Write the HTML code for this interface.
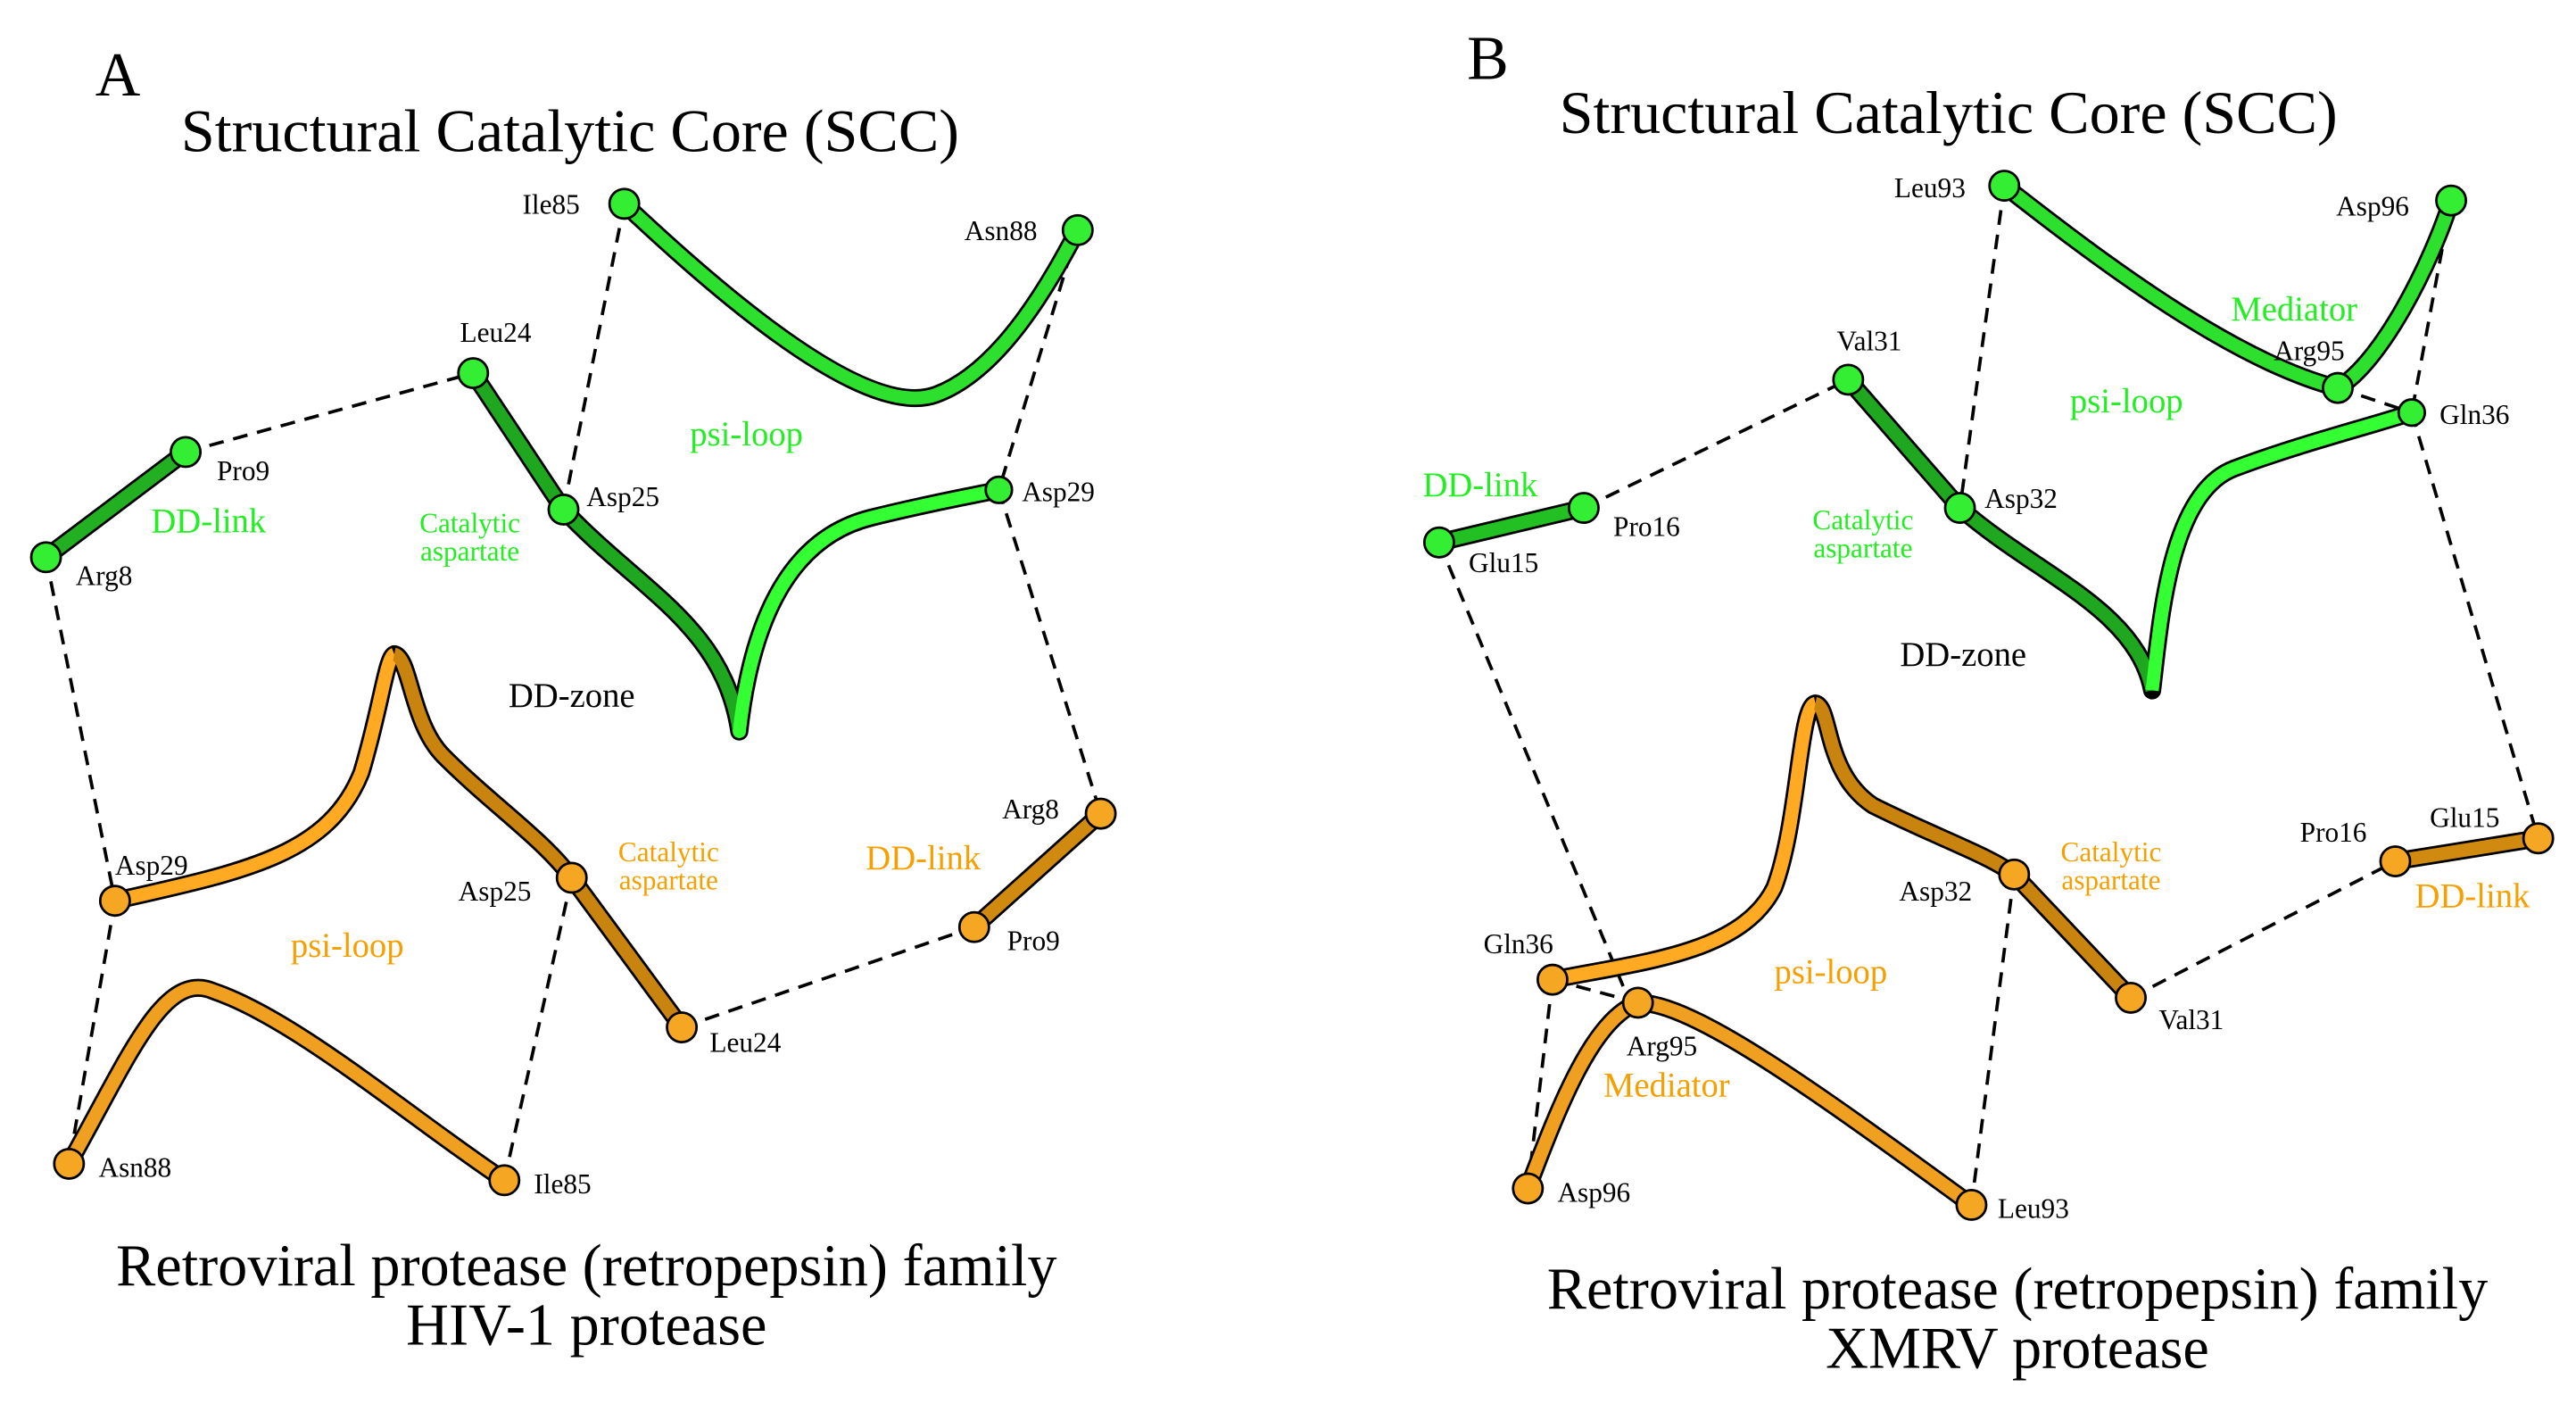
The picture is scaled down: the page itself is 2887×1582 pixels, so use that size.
<!DOCTYPE html>
<html><head><meta charset="utf-8"><style>
html,body{margin:0;padding:0;background:#fff;}
svg{display:block;}
text{font-family:"Liberation Serif",serif;}
.r{font-size:17px;fill:#000;}
.g{fill:#22ee22;font-size:21px;}
.o{fill:#f5a000;font-size:21px;}
.gs{fill:#22ee22;font-size:17px;}
.os{fill:#f5a000;font-size:17px;}
.d{stroke:#000;stroke-width:2;stroke-dasharray:9,6;fill:none;}
.ko{stroke:#000;stroke-width:11;fill:none;stroke-linecap:round;stroke-linejoin:round;}
.ci{stroke:#000;stroke-width:1.5;}
</style></head><body>
<svg width="2887" height="1582" viewBox="0 0 1568 859" preserveAspectRatio="none" xmlns="http://www.w3.org/2000/svg">
<rect width="1568" height="859" fill="#fff"/>
<!-- Panel A -->
<text x="58" y="58" font-size="38">A</text>
<text x="347" y="92" font-size="37" text-anchor="middle">Structural Catalytic Core (SCC)</text>
<g class="d">
<line x1="113" y1="275" x2="288" y2="227"/>
<line x1="380" y1="124" x2="343" y2="310"/>
<line x1="656" y1="140" x2="608" y2="298"/>
<line x1="28" y1="339" x2="70" y2="548"/>
<line x1="608" y1="298" x2="670" y2="495"/>
<line x1="415" y1="625" x2="593" y2="564"/>
<line x1="348" y1="534" x2="307" y2="718"/>
<line x1="70" y1="548" x2="42" y2="708"/>
</g>
<path class="ko" d="M380,124 C450,190 530,255 570,240 C610,225 640,170 656,140"/>
<path d="M380,124 C450,190 530,255 570,240 C610,225 640,170 656,140" stroke="#2de02d" stroke-width="8" fill="none" stroke-linecap="round"/>
<path class="ko" d="M288,227 L343,310 C390,360 440,380 450,445 C455,400 470,330 530,315 C570,305 600,300 608,298"/>
<path d="M288,227 L343,310 C390,360 440,380 450,445" stroke="#1fa81f" stroke-width="8" fill="none" stroke-linecap="round"/>
<path d="M450,445 C455,400 470,330 530,315 C570,305 600,300 608,298" stroke="#33ff33" stroke-width="8" fill="none" stroke-linecap="round"/>
<path class="ko" d="M113,275 L28,339"/>
<path d="M113,275 L28,339" stroke="#22b022" stroke-width="8"/>
<path class="ko" d="M70,548 C150,530 200,520 220,470 C232,430 235,400 240,398 C250,400 250,440 270,460 C300,490 330,510 348,534 L415,625"/>
<path d="M70,548 C150,530 200,520 220,470 C232,430 235,400 240,398" stroke="#ffaa22" stroke-width="8" fill="none"/>
<path d="M240,398 C250,400 250,440 270,460 C300,490 330,510 348,534 L415,625" stroke="#c98410" stroke-width="8" fill="none"/>
<path class="ko" d="M42,708 C80,640 100,590 130,603 C180,620 250,680 307,718"/>
<path d="M42,708 C80,640 100,590 130,603 C180,620 250,680 307,718" stroke="#f0a020" stroke-width="8" fill="none"/>
<path class="ko" d="M670,495 L593,564"/>
<path d="M670,495 L593,564" stroke="#d08a10" stroke-width="8"/>
<g class="ci" fill="#33ee33">
<circle cx="380" cy="124" r="9"/><circle cx="656" cy="140" r="9"/><circle cx="288" cy="227" r="9"/>
<circle cx="343" cy="310" r="9"/><circle cx="608" cy="298" r="8"/><circle cx="113" cy="275" r="9"/><circle cx="28" cy="339" r="9"/>
</g>
<g class="ci" fill="#f5a623">
<circle cx="70" cy="548" r="9"/><circle cx="348" cy="534" r="9"/><circle cx="415" cy="625" r="9"/>
<circle cx="42" cy="708" r="9"/><circle cx="307" cy="718" r="9"/><circle cx="670" cy="495" r="9"/><circle cx="593" cy="564" r="9"/>
</g>
<text class="r" x="318" y="130">Ile85</text>
<text class="r" x="587" y="146">Asn88</text>
<text class="r" x="280" y="208">Leu24</text>
<text class="r" x="132" y="292">Pro9</text>
<text class="r" x="357" y="308">Asp25</text>
<text class="r" x="622" y="305">Asp29</text>
<text class="r" x="46" y="356">Arg8</text>
<text class="r" x="70" y="532">Asp29</text>
<text class="r" x="279" y="548">Asp25</text>
<text class="r" x="610" y="498">Arg8</text>
<text class="r" x="613" y="578">Pro9</text>
<text class="r" x="432" y="640">Leu24</text>
<text class="r" x="60" y="716">Asn88</text>
<text class="r" x="325" y="726">Ile85</text>
<text class="g" x="420" y="271">psi-loop</text>
<text class="g" x="92" y="324">DD-link</text>
<text class="gs" x="286" y="324" text-anchor="middle">Catalytic</text>
<text class="gs" x="286" y="341" text-anchor="middle">aspartate</text>
<text x="348" y="430" font-size="21" text-anchor="middle">DD-zone</text>
<text class="o" x="177" y="582">psi-loop</text>
<text class="os" x="407" y="524" text-anchor="middle">Catalytic</text>
<text class="os" x="407" y="541" text-anchor="middle">aspartate</text>
<text class="o" x="527" y="529">DD-link</text>
<text x="357" y="782" font-size="36" text-anchor="middle">Retroviral protease (retropepsin) family</text>
<text x="357" y="818" font-size="36" text-anchor="middle">HIV-1 protease</text>

<!-- Panel B -->
<text x="893" y="48" font-size="38">B</text>
<text x="1186" y="81" font-size="37" text-anchor="middle">Structural Catalytic Core (SCC)</text>
<g class="d">
<line x1="964" y1="309" x2="1125" y2="231"/>
<line x1="1220" y1="113" x2="1193" y2="309"/>
<line x1="1492" y1="122" x2="1468" y2="251"/>
<line x1="1423" y1="236" x2="1468" y2="251"/>
<line x1="876" y1="330" x2="988" y2="600"/>
<line x1="1468" y1="251" x2="1545" y2="510"/>
<line x1="1297" y1="607" x2="1458" y2="524"/>
<line x1="1226" y1="532" x2="1200" y2="733"/>
<line x1="945" y1="596" x2="930" y2="723"/>
<line x1="945" y1="596" x2="997" y2="610"/>
</g>
<path class="ko" d="M1220,113 C1280,160 1360,220 1423,236 C1450,220 1480,160 1492,122"/>
<path d="M1220,113 C1280,160 1360,220 1423,236 C1450,220 1480,160 1492,122" stroke="#2de02d" stroke-width="8" fill="none"/>
<path class="ko" d="M1125,231 L1193,309 C1240,350 1300,370 1310,420 C1315,380 1320,300 1360,285 C1400,270 1440,260 1468,251"/>
<path d="M1125,231 L1193,309 C1240,350 1300,370 1310,420" stroke="#1fa81f" stroke-width="8" fill="none"/>
<path d="M1310,420 C1315,380 1320,300 1360,285 C1400,270 1440,260 1468,251" stroke="#33ff33" stroke-width="8" fill="none"/>
<path class="ko" d="M964,309 L876,330"/>
<path d="M964,309 L876,330" stroke="#22c022" stroke-width="8"/>
<path class="ko" d="M945,596 C1000,585 1060,580 1080,540 C1095,500 1095,430 1105,428 C1115,430 1110,470 1140,490 C1180,510 1210,520 1226,532 L1297,607"/>
<path d="M945,596 C1000,585 1060,580 1080,540 C1095,500 1095,430 1105,428" stroke="#ffaa22" stroke-width="8" fill="none"/>
<path d="M1105,428 C1115,430 1110,470 1140,490 C1180,510 1210,520 1226,532 L1297,607" stroke="#c98410" stroke-width="8" fill="none"/>
<path class="ko" d="M930,723 C950,670 970,620 997,610 C1030,610 1100,660 1200,733"/>
<path d="M930,723 C950,670 970,620 997,610 C1030,610 1100,660 1200,733" stroke="#f0a020" stroke-width="8" fill="none"/>
<path class="ko" d="M1458,524 L1545,510"/>
<path d="M1458,524 L1545,510" stroke="#d08a10" stroke-width="8"/>
<g class="ci" fill="#33ee33">
<circle cx="1220" cy="113" r="9"/><circle cx="1492" cy="122" r="9"/><circle cx="1423" cy="236" r="9"/>
<circle cx="1468" cy="251" r="8"/><circle cx="1125" cy="231" r="9"/><circle cx="1193" cy="309" r="9"/>
<circle cx="964" cy="309" r="9"/><circle cx="876" cy="330" r="9"/>
</g>
<g class="ci" fill="#f5a623">
<circle cx="945" cy="596" r="9"/><circle cx="997" cy="610" r="9"/><circle cx="930" cy="723" r="9"/>
<circle cx="1200" cy="733" r="9"/><circle cx="1226" cy="532" r="9"/><circle cx="1297" cy="607" r="9"/>
<circle cx="1458" cy="524" r="9"/><circle cx="1545" cy="510" r="9"/>
</g>
<text class="r" x="1153" y="120">Leu93</text>
<text class="r" x="1422" y="131">Asp96</text>
<text class="r" x="1384" y="219">Arg95</text>
<text class="r" x="1485" y="258">Gln36</text>
<text class="r" x="1118" y="213">Val31</text>
<text class="r" x="1208" y="309">Asp32</text>
<text class="r" x="982" y="326">Pro16</text>
<text class="r" x="894" y="348">Glu15</text>
<text class="r" x="903" y="580">Gln36</text>
<text class="r" x="990" y="642">Arg95</text>
<text class="r" x="948" y="731">Asp96</text>
<text class="r" x="1216" y="741">Leu93</text>
<text class="r" x="1156" y="548">Asp32</text>
<text class="r" x="1314" y="626">Val31</text>
<text class="r" x="1400" y="512">Pro16</text>
<text class="r" x="1479" y="503">Glu15</text>
<text class="g" x="1358" y="195">Mediator</text>
<text class="g" x="1260" y="251">psi-loop</text>
<text class="g" x="866" y="302">DD-link</text>
<text class="gs" x="1134" y="322" text-anchor="middle">Catalytic</text>
<text class="gs" x="1134" y="339" text-anchor="middle">aspartate</text>
<text x="1195" y="405" font-size="21" text-anchor="middle">DD-zone</text>
<text class="o" x="1080" y="598">psi-loop</text>
<text class="o" x="976" y="667">Mediator</text>
<text class="os" x="1285" y="524" text-anchor="middle">Catalytic</text>
<text class="os" x="1285" y="541" text-anchor="middle">aspartate</text>
<text class="o" x="1470" y="552">DD-link</text>
<text x="1228" y="796" font-size="36" text-anchor="middle">Retroviral protease (retropepsin) family</text>
<text x="1228" y="832" font-size="36" text-anchor="middle">XMRV protease</text>
</svg>
</body></html>
